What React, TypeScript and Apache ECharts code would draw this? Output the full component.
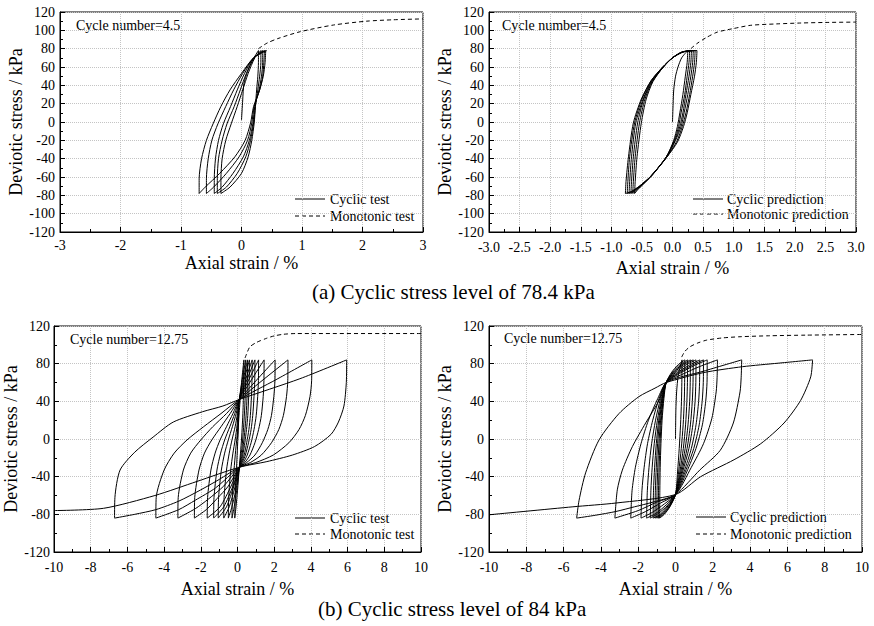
import React, { useEffect, useRef } from "react";
import * as echarts from "echarts";

const FONT = "Liberation Serif";

// ---------- (a) cyclic stress level 78.4 kPa : test ----------
const testA_initial: number[][] = [[0, 2], [0.02, 24], [0.04, 42], [0.1, 55], [0.18, 67], [0.28, 78]];
const testA_unloading: number[][][] = [
  [[0.28, 78], [0.28, 65], [0.27, 50], [0.25, 35], [0.23, 17], [0.21, -1], [0.17, -20], [0.11, -38], [0.0, -56], [-0.19, -71], [-0.34, -78]],
  [[0.32, 78], [0.32, 65], [0.3, 50], [0.27, 35], [0.23, 17], [0.2, -1], [0.15, -20], [0.07, -38], [-0.07, -56], [-0.25, -71], [-0.4, -78]],
  [[0.35, 78], [0.35, 65], [0.33, 50], [0.29, 35], [0.22, 17], [0.19, -1], [0.13, -20], [0.03, -38], [-0.14, -56], [-0.32, -71], [-0.45, -78]],
  [[0.38, 78], [0.37, 65], [0.35, 50], [0.3, 35], [0.21, 17], [0.17, -1], [0.1, -20], [-0.04, -38], [-0.25, -56], [-0.46, -71], [-0.58, -78]],
  [[0.4, 78], [0.39, 65], [0.36, 50], [0.3, 35], [0.2, 17], [0.15, -1], [0.06, -20], [-0.11, -38], [-0.36, -56], [-0.6, -71], [-0.7, -78]],
];
const testA_reloading: number[][][] = [
  [[-0.34, -78], [-0.34, -62], [-0.32, -40], [-0.26, -20], [-0.17, -2], [-0.07, 17], [0.02, 35], [0.11, 53], [0.22, 70], [0.32, 78]],
  [[-0.4, -78], [-0.4, -62], [-0.38, -40], [-0.32, -20], [-0.24, -2], [-0.12, 17], [-0.02, 35], [0.08, 53], [0.21, 70], [0.35, 78]],
  [[-0.45, -78], [-0.45, -62], [-0.43, -40], [-0.38, -20], [-0.3, -2], [-0.18, 17], [-0.07, 35], [0.05, 53], [0.2, 70], [0.38, 78]],
  [[-0.58, -78], [-0.58, -62], [-0.55, -40], [-0.49, -20], [-0.39, -2], [-0.26, 17], [-0.13, 35], [0.02, 53], [0.2, 70], [0.4, 78]],
  [[-0.7, -78], [-0.7, -62], [-0.66, -40], [-0.58, -20], [-0.47, -2], [-0.34, 17], [-0.19, 35], [0.0, 53], [0.2, 70], [0.42, 78]],
];
const testA_monotonic: number[][] = [[0.28, 80], [0.42, 86], [0.6, 91], [0.97, 98.5], [1.52, 105.8], [2.07, 110], [2.5, 111.5], [3.0, 112.5]];

// ---------- (a) cyclic stress level 78.4 kPa : prediction ----------
const predA_initial: number[][] = [[0, 0], [0.01, 20], [0.02, 35], [0.05, 50], [0.09, 60], [0.15, 70], [0.25, 78]];
const predA_unloading: number[][][] = [
  [[0.25, 78], [0.24, 65], [0.21, 50], [0.17, 30], [0.12, 10], [0.08, -5], [0.02, -20], [-0.1, -38], [-0.33, -58], [-0.48, -68], [-0.57, -74], [-0.62, -78]],
  [[0.28, 78], [0.27, 65], [0.24, 50], [0.2, 30], [0.14, 10], [0.1, -5], [0.03, -20], [-0.1, -38], [-0.34, -58.5], [-0.5, -69], [-0.6, -75], [-0.65, -78]],
  [[0.31, 78], [0.3, 65], [0.27, 50], [0.22, 30], [0.17, 10], [0.12, -5], [0.04, -20], [-0.1, -38], [-0.35, -59], [-0.52, -69.5], [-0.63, -75.5], [-0.68, -78]],
  [[0.34, 78], [0.33, 65], [0.3, 50], [0.25, 30], [0.19, 10], [0.14, -5], [0.05, -20], [-0.09, -38], [-0.36, -59.5], [-0.53, -70], [-0.65, -76], [-0.71, -78]],
  [[0.37, 78], [0.36, 65], [0.33, 50], [0.28, 30], [0.22, 10], [0.16, -5], [0.07, -21], [-0.09, -38], [-0.36, -59.5], [-0.54, -70], [-0.67, -76], [-0.74, -78]],
  [[0.4, 78], [0.39, 65], [0.36, 50], [0.3, 30], [0.24, 10], [0.18, -5], [0.08, -22], [-0.09, -38], [-0.36, -59.5], [-0.55, -70.5], [-0.68, -76], [-0.77, -78]],
];
const predA_reloading: number[][][] = [
  [[-0.62, -78], [-0.61, -65], [-0.58, -38], [-0.51, -1], [-0.43, 25], [-0.32, 44], [-0.15, 60], [0.0, 70], [0.14, 76], [0.28, 78]],
  [[-0.65, -78], [-0.64, -65], [-0.61, -38], [-0.54, -1], [-0.45, 25], [-0.33, 44], [-0.15, 60], [0.0, 70], [0.15, 76], [0.31, 78]],
  [[-0.68, -78], [-0.67, -65], [-0.64, -38], [-0.57, -1], [-0.47, 25], [-0.33, 45], [-0.15, 60], [0.0, 70], [0.16, 76.5], [0.34, 78]],
  [[-0.71, -78], [-0.7, -65], [-0.67, -38], [-0.6, -1], [-0.48, 25], [-0.34, 45], [-0.15, 60], [0.0, 70], [0.17, 76.5], [0.37, 78]],
  [[-0.74, -78], [-0.73, -65], [-0.7, -38], [-0.62, -1], [-0.5, 25], [-0.35, 45], [-0.16, 60], [0.0, 70], [0.18, 76.5], [0.4, 78]],
  [[-0.77, -78], [-0.76, -65], [-0.72, -38], [-0.64, -1], [-0.51, 25], [-0.35, 45], [-0.16, 60], [0.0, 70], [0.18, 76.5], [0.4, 78]],
];
const predA_monotonic: number[][] = [[0.3, 80], [0.4, 85.6], [0.55, 92], [0.73, 98], [1.0, 102], [1.28, 105.5], [1.7, 107], [2.1, 108], [2.5, 108.6], [3.0, 109]];

// ---------- (b) cyclic stress level 84 kPa : test ----------
const testB_initial: number[][] = [[0, 0], [0.1, 30], [0.22, 60], [0.35, 84]];
const testB_unloading: number[][][] = [
  [[0.35, 84], [0.34, 60], [0.3, 30], [0.22, 0], [0.1, -30], [0.0, -55], [-0.08, -72], [-0.15, -84]],
  [[0.45, 84], [0.44, 60], [0.4, 35], [0.33, 12], [0.24, -10], [0.1, -30], [-0.05, -55], [-0.18, -72], [-0.3, -84]],
  [[0.55, 84], [0.54, 62], [0.51, 40], [0.45, 20], [0.37, 3], [0.26, -15], [0.1, -30], [-0.1, -55], [-0.32, -73], [-0.5, -84]],
  [[0.65, 84], [0.64, 62], [0.61, 45], [0.56, 25], [0.49, 10], [0.4, -4], [0.29, -17], [0.19, -25], [0.1, -30], [-0.15, -52], [-0.45, -72], [-0.75, -84]],
  [[0.8, 84], [0.79, 62], [0.76, 45], [0.7, 25], [0.62, 10], [0.5, -4], [0.36, -17], [0.22, -25], [0.1, -30], [-0.2, -50], [-0.6, -72], [-1.05, -84]],
  [[0.95, 84], [0.94, 62], [0.9, 45], [0.83, 25], [0.74, 10], [0.6, -4], [0.43, -17], [0.26, -25], [0.1, -30], [-0.25, -50], [-0.75, -72], [-1.3, -84]],
  [[1.15, 84], [1.14, 62], [1.1, 45], [1.02, 25], [0.9, 10], [0.74, -4], [0.53, -17], [0.32, -25], [0.1, -30], [-0.35, -50], [-0.95, -72], [-1.65, -84]],
  [[1.45, 84], [1.44, 62], [1.4, 45], [1.3, 25], [1.15, 10], [0.95, -4], [0.68, -17], [0.4, -25], [0.1, -30], [-0.5, -50], [-1.1, -63], [-1.7, -75], [-2.35, -84]],
  [[2.05, 84], [2.04, 62], [1.98, 45], [1.85, 25], [1.65, 10], [1.35, -4], [0.95, -17], [0.5, -25], [0.1, -30], [-0.75, -50], [-1.6, -64], [-2.3, -74], [-3.25, -84]],
  [[2.75, 84], [2.74, 62], [2.67, 45], [2.5, 25], [2.25, 10], [1.85, -4], [1.3, -17], [0.7, -25], [0.1, -30], [-1.2, -52], [-2.3, -65], [-3.2, -75], [-4.45, -84]],
  [[4.05, 84], [4.04, 62], [3.95, 45], [3.7, 25], [3.35, 10], [2.8, -4], [1.95, -17], [1.0, -25], [0.1, -30], [-1.0, -43], [-2.0, -54], [-3.2, -66], [-4.45, -75], [-5.6, -80], [-6.7, -84]],
  [[5.95, 84], [5.93, 60], [5.8, 35], [5.5, 18], [5.1, 5], [4.2, -8], [3.0, -17], [1.6, -24], [0.1, -30], [-2.2, -45], [-4.5, -60], [-7.3, -73.6], [-10, -76]],
];
const testB_reloading: number[][][] = [
  [[-0.15, -84], [-0.12, -60], [-0.05, -30], [0.03, 5], [0.1, 42], [0.45, 84]],
  [[-0.3, -84], [-0.28, -62], [-0.19, -33], [-0.1, -12], [0.0, 8], [0.1, 42], [0.55, 84]],
  [[-0.5, -84], [-0.48, -62], [-0.37, -33], [-0.25, -15], [-0.13, -1], [-0.02, 15], [0.1, 42], [0.65, 84]],
  [[-0.75, -84], [-0.73, -62], [-0.6, -33], [-0.45, -15], [-0.3, -1], [-0.13, 13], [0.0, 27], [0.1, 42], [0.8, 84]],
  [[-1.05, -84], [-1.03, -62], [-0.88, -33], [-0.7, -15], [-0.5, -1], [-0.28, 13], [-0.07, 27], [0.1, 42], [0.95, 84]],
  [[-1.3, -84], [-1.28, -62], [-1.12, -33], [-0.92, -15], [-0.7, -1], [-0.42, 13], [-0.15, 27], [0.1, 42], [1.15, 84]],
  [[-1.65, -84], [-1.63, -62], [-1.45, -33], [-1.22, -15], [-0.95, -1], [-0.6, 13], [-0.25, 27], [0.1, 42], [1.45, 84]],
  [[-2.35, -84], [-2.33, -62], [-2.1, -33], [-1.8, -15], [-1.4, -1], [-0.9, 13], [-0.4, 27], [0.1, 42], [2.05, 84]],
  [[-3.25, -84], [-3.23, -62], [-2.95, -33], [-2.55, -15], [-2.0, -1], [-1.35, 13], [-0.6, 27], [0.1, 42], [2.75, 84]],
  [[-4.45, -84], [-4.43, -62], [-4.0, -33], [-3.45, -15], [-2.75, -1], [-1.85, 13], [-0.9, 27], [0.1, 42], [2.1, 63], [4.05, 84]],
  [[-6.7, -84], [-6.68, -62], [-6.4, -33], [-5.6, -14], [-4.6, 2], [-3.5, 18], [-1.9, 29], [-0.8, 35], [0.1, 42], [3.4, 64], [5.95, 84]],
];
const testB_monotonic: number[][] = [[0.41, 86], [0.55, 93], [0.68, 98], [1.04, 102.6], [1.59, 107], [2.0, 109.5], [2.5, 111.2], [3.2, 112], [10, 112]];

// ---------- (b) cyclic stress level 84 kPa : prediction ----------
const predB_initial: number[][] = [[0, 0], [0.02, 30], [0.06, 50], [0.15, 68], [0.35, 84]];
const predB_unloading: number[][][] = [
  [[0.35, 84], [0.34, 60], [0.32, 40], [0.27, 15], [0.2, -10], [0.11, -35], [0, -59], [-0.3, -72], [-0.6, -80], [-0.85, -84]],
  [[0.5, 84], [0.49, 60], [0.47, 40], [0.41, 15], [0.31, -10], [0.17, -35], [0, -59], [-0.32, -72], [-0.64, -80], [-0.92, -84]],
  [[0.65, 84], [0.64, 60], [0.61, 40], [0.54, 15], [0.42, -10], [0.23, -35], [0, -59], [-0.35, -72], [-0.7, -80], [-1.0, -84]],
  [[0.8, 84], [0.79, 60], [0.76, 40], [0.67, 15], [0.52, -10], [0.28, -35], [0, -59], [-0.38, -72], [-0.76, -80], [-1.1, -84]],
  [[0.95, 84], [0.94, 60], [0.9, 40], [0.8, 15], [0.62, -10], [0.33, -35], [0, -59], [-0.4, -71], [-0.82, -80], [-1.2, -84]],
  [[1.1, 84], [1.09, 60], [1.05, 40], [0.93, 15], [0.72, -10], [0.38, -35], [0, -59], [-0.45, -71], [-0.92, -79], [-1.35, -84]],
  [[1.3, 84], [1.29, 60], [1.24, 40], [1.1, 15], [0.85, -10], [0.45, -35], [0, -59], [-0.5, -70], [-1.05, -79], [-1.55, -84]],
  [[1.5, 84], [1.49, 60], [1.43, 40], [1.27, 15], [0.98, -10], [0.52, -35], [0, -59], [-0.6, -69], [-1.25, -78], [-1.85, -84]],
  [[1.7, 84], [1.69, 60], [1.62, 40], [1.44, 15], [1.1, -10], [0.6, -35], [0, -59], [-0.8, -68], [-1.6, -77], [-2.4, -84]],
  [[2.25, 84], [2.23, 65], [2.18, 50], [1.95, 22], [1.5, -5], [0.85, -30], [0, -59], [-1.0, -67], [-2.0, -76], [-3.25, -84]],
  [[3.55, 84], [3.52, 65], [3.46, 50], [3.1, 17], [2.4, -12], [1.3, -33], [0, -59], [-1.2, -67], [-2.2, -72], [-3.2, -77], [-4.3, -81], [-5.3, -84]],
  [[7.35, 84], [7.25, 66], [6.71, 41], [5.82, 17], [4.57, -5], [3.14, -22], [1.35, -40], [0, -59], [-3.2, -68], [-5.5, -72], [-10, -80.5]],
];
const predB_reloading: number[][][] = [
  [[-0.85, -84], [-0.84, -55], [-0.82, -30], [-0.78, -5], [-0.72, 20], [-0.62, 43], [-0.5, 60], [-0.2, 71], [0.15, 79], [0.5, 84]],
  [[-0.92, -84], [-0.91, -55], [-0.88, -30], [-0.83, -5], [-0.76, 20], [-0.65, 43], [-0.5, 60], [-0.15, 71], [0.25, 79], [0.65, 84]],
  [[-1.0, -84], [-0.99, -55], [-0.95, -30], [-0.89, -5], [-0.8, 20], [-0.67, 43], [-0.5, 60], [-0.1, 71], [0.35, 79], [0.8, 84]],
  [[-1.1, -84], [-1.08, -55], [-1.03, -30], [-0.96, -5], [-0.85, 20], [-0.7, 43], [-0.5, 60], [-0.05, 71], [0.45, 79], [0.95, 84]],
  [[-1.2, -84], [-1.18, -55], [-1.12, -30], [-1.03, -5], [-0.9, 20], [-0.72, 43], [-0.5, 60], [0.0, 70.5], [0.55, 78.5], [1.1, 84]],
  [[-1.35, -84], [-1.32, -55], [-1.25, -30], [-1.14, -5], [-0.97, 20], [-0.75, 43], [-0.5, 60], [0.1, 70.5], [0.7, 78], [1.3, 84]],
  [[-1.55, -84], [-1.51, -55], [-1.42, -30], [-1.28, -5], [-1.07, 20], [-0.8, 43], [-0.5, 60], [0.2, 70.5], [0.85, 78], [1.5, 84]],
  [[-1.85, -84], [-1.8, -55], [-1.68, -30], [-1.5, -5], [-1.22, 20], [-0.88, 43], [-0.5, 60], [0.3, 70.5], [1.0, 78], [1.7, 84]],
  [[-2.4, -84], [-2.33, -55], [-2.15, -30], [-1.85, -5], [-1.45, 20], [-0.95, 43], [-0.5, 60], [0.4, 69], [1.3, 77], [2.25, 84]],
  [[-3.25, -84], [-3.12, -54], [-2.85, -33], [-2.31, -8], [-1.6, 17], [-0.88, 41], [-0.5, 60], [1.5, 72], [3.55, 84]],
  [[-5.3, -84], [-5.17, -65], [-4.82, -36], [-4.1, -1], [-3.03, 27], [-1.96, 45], [-1.1, 54], [-0.5, 60], [1.5, 70.5], [3.6, 76.8], [5.5, 80.5], [7.35, 84]],
];
const predB_monotonic: number[][] = [[0.33, 87], [0.5, 93], [0.78, 98], [1.2, 102], [1.67, 105], [2.5, 107.3], [3.46, 108.6], [5, 109.6], [7, 110.3], [10, 111]];

// axis ranges: [min, max, interval]
const strainRangeA = [-3, 3, 1];
const strainRangePredA = [-3, 3, 0.5];
const strainRangeB = [-10, 10, 2];
const stressRangeA = [-120, 120, 20];
const stressRangeB = [-120, 120, 40];

const testLegend = ["Cyclic test", "Monotonic test"];
const predLegend = ["Cyclic prediction", "Monotonic prediction"];
const cycleLabels = ["Cycle number=4.5", "Cycle number=4.5", "Cycle number=12.75", "Cycle number=12.75"];
const captions = ["(a) Cyclic stress level of 78.4 kPa", "(b) Cyclic stress level of 84 kPa"];

const grids = [
  { left: 60, top: 12, width: 363, height: 220 },
  { left: 489, top: 12, width: 367, height: 220 },
  { left: 54, top: 326, width: 367, height: 226 },
  { left: 489, top: 326, width: 373, height: 226 },
];

function xAxis(gridIndex: number, range: number[], decimals: number, labelMargin: number, nameGap: number) {
  return {
    type: "value",
    gridIndex,
    min: range[0],
    max: range[1],
    interval: range[2],
    name: "Axial strain / %",
    nameLocation: "middle",
    nameGap,
    nameTextStyle: { fontFamily: FONT, fontSize: 18, color: "#000" },
    axisLine: { onZero: false, lineStyle: { color: "#000", width: 1 } },
    axisTick: { inside: true, length: 5, lineStyle: { color: "#000" } },
    minorTick: { show: true, splitNumber: 2, length: 3, lineStyle: { color: "#000" } },
    splitLine: { show: true, lineStyle: { color: "#c4c4c4", type: "dotted", width: 1 } },
    axisLabel: {
      color: "#000",
      fontFamily: FONT,
      fontSize: 14,
      margin: labelMargin,
      formatter: (v: number) => (decimals ? v.toFixed(decimals) : String(v)),
    },
  };
}

function yAxis(gridIndex: number, range: number[], labelMargin: number) {
  return {
    type: "value",
    gridIndex,
    min: range[0],
    max: range[1],
    interval: range[2],
    name: "Deviotic stress / kPa",
    nameLocation: "middle",
    nameGap: 33,
    nameTextStyle: { fontFamily: FONT, fontSize: 18, color: "#000" },
    axisLine: { onZero: false, lineStyle: { color: "#000", width: 1 } },
    axisTick: { inside: true, length: 5, lineStyle: { color: "#000" } },
    minorTick: { show: true, splitNumber: 2, length: 3, lineStyle: { color: "#000" } },
    splitLine: { show: true, lineStyle: { color: "#c4c4c4", type: "dotted", width: 1 } },
    axisLabel: { color: "#000", fontFamily: FONT, fontSize: 14, margin: labelMargin },
  };
}

function curve(name: string, idx: number, data: number[][], dashed: boolean) {
  return {
    type: "line",
    name,
    xAxisIndex: idx,
    yAxisIndex: idx,
    data,
    symbol: "none",
    showSymbol: false,
    smooth: 0.25,
    silent: true,
    lineStyle: { color: "#000", width: 1, type: dashed ? [4, 3] : "solid" },
    itemStyle: { color: "#000" },
  };
}

function panelSeries(idx: number, names: string[], initial: number[][], unloading: number[][][], reloading: number[][][], monotonic: number[][]) {
  const out: any[] = [];
  out.push(curve(names[1], idx, monotonic, true));
  out.push(curve(names[0], idx, initial, false));
  unloading.forEach((b) => out.push(curve(names[0], idx, b, false)));
  reloading.forEach((b) => out.push(curve(names[0], idx, b, false)));
  return out;
}

// legend drawn as a key: a short solid / dashed stroke followed by its label
function legendKey(names: string[], x: number, y1: number, y2: number, textX: number) {
  const rows = [y1, y2];
  const items: any[] = [];
  rows.forEach((y, i) => {
    items.push({
      type: "line",
      silent: true,
      shape: { x1: x, y1: y, x2: x + 30, y2: y },
      style: { stroke: "#000", lineWidth: 1, lineDash: i === 1 ? [4, 3] : null },
    });
    items.push({
      type: "text",
      silent: true,
      x: textX,
      y,
      style: { text: names[i], fontFamily: FONT, fontSize: 14, fill: "#000", verticalAlign: "middle", align: "left" },
    });
  });
  return items;
}

function label(text: string, left: number, top: number, size: number) {
  return { type: "text", left, top, silent: true, style: { text, fontFamily: FONT, fontSize: size, fill: "#000" } };
}

export default function App() {
  const ref = useRef<HTMLDivElement>(null);

  useEffect(() => {
    if (!ref.current) return;
    const chart = echarts.init(ref.current, null, { renderer: "svg" });
    const option: any = {
      animation: false,
      backgroundColor: "#fff",
      textStyle: { fontFamily: FONT },
      grid: grids.map((g) => ({ ...g, show: true, borderColor: "#000", borderWidth: 1, containLabel: false })),
      xAxis: [
        xAxis(0, strainRangeA, 0, 6, 22),
        xAxis(1, strainRangePredA, 1, 8, 27),
        xAxis(2, strainRangeB, 0, 8, 28),
        xAxis(3, strainRangeB, 0, 8, 28),
      ],
      yAxis: [yAxis(0, stressRangeA, 5), yAxis(1, stressRangeA, 5), yAxis(2, stressRangeB, 4), yAxis(3, stressRangeB, 5)],
      series: [
        ...panelSeries(0, testLegend, testA_initial, testA_unloading, testA_reloading, testA_monotonic),
        ...panelSeries(1, predLegend, predA_initial, predA_unloading, predA_reloading, predA_monotonic),
        ...panelSeries(2, testLegend, testB_initial, testB_unloading, testB_reloading, testB_monotonic),
        ...panelSeries(3, predLegend, predB_initial, predB_unloading, predB_reloading, predB_monotonic),
      ],
      graphic: [
        label(cycleLabels[0], 76, 18, 14),
        label(cycleLabels[1], 502, 18, 14),
        label(cycleLabels[2], 70, 332, 14),
        label(cycleLabels[3], 504, 331, 14),
        label(captions[0], 312, 281, 21),
        label(captions[1], 318, 598, 21),
        ...legendKey(testLegend, 295, 199, 216, 330),
        ...legendKey(predLegend, 693, 199, 214, 727),
        ...legendKey(testLegend, 295, 518, 534, 330),
        ...legendKey(predLegend, 696, 517, 534, 730),
      ],
    };
    chart.setOption(option);
    return () => chart.dispose();
  }, []);

  return (
    <div
      ref={ref}
      style={{ position: "absolute", left: 0, top: 0, width: 874, height: 626, background: "#fff" }}
    />
  );
}
